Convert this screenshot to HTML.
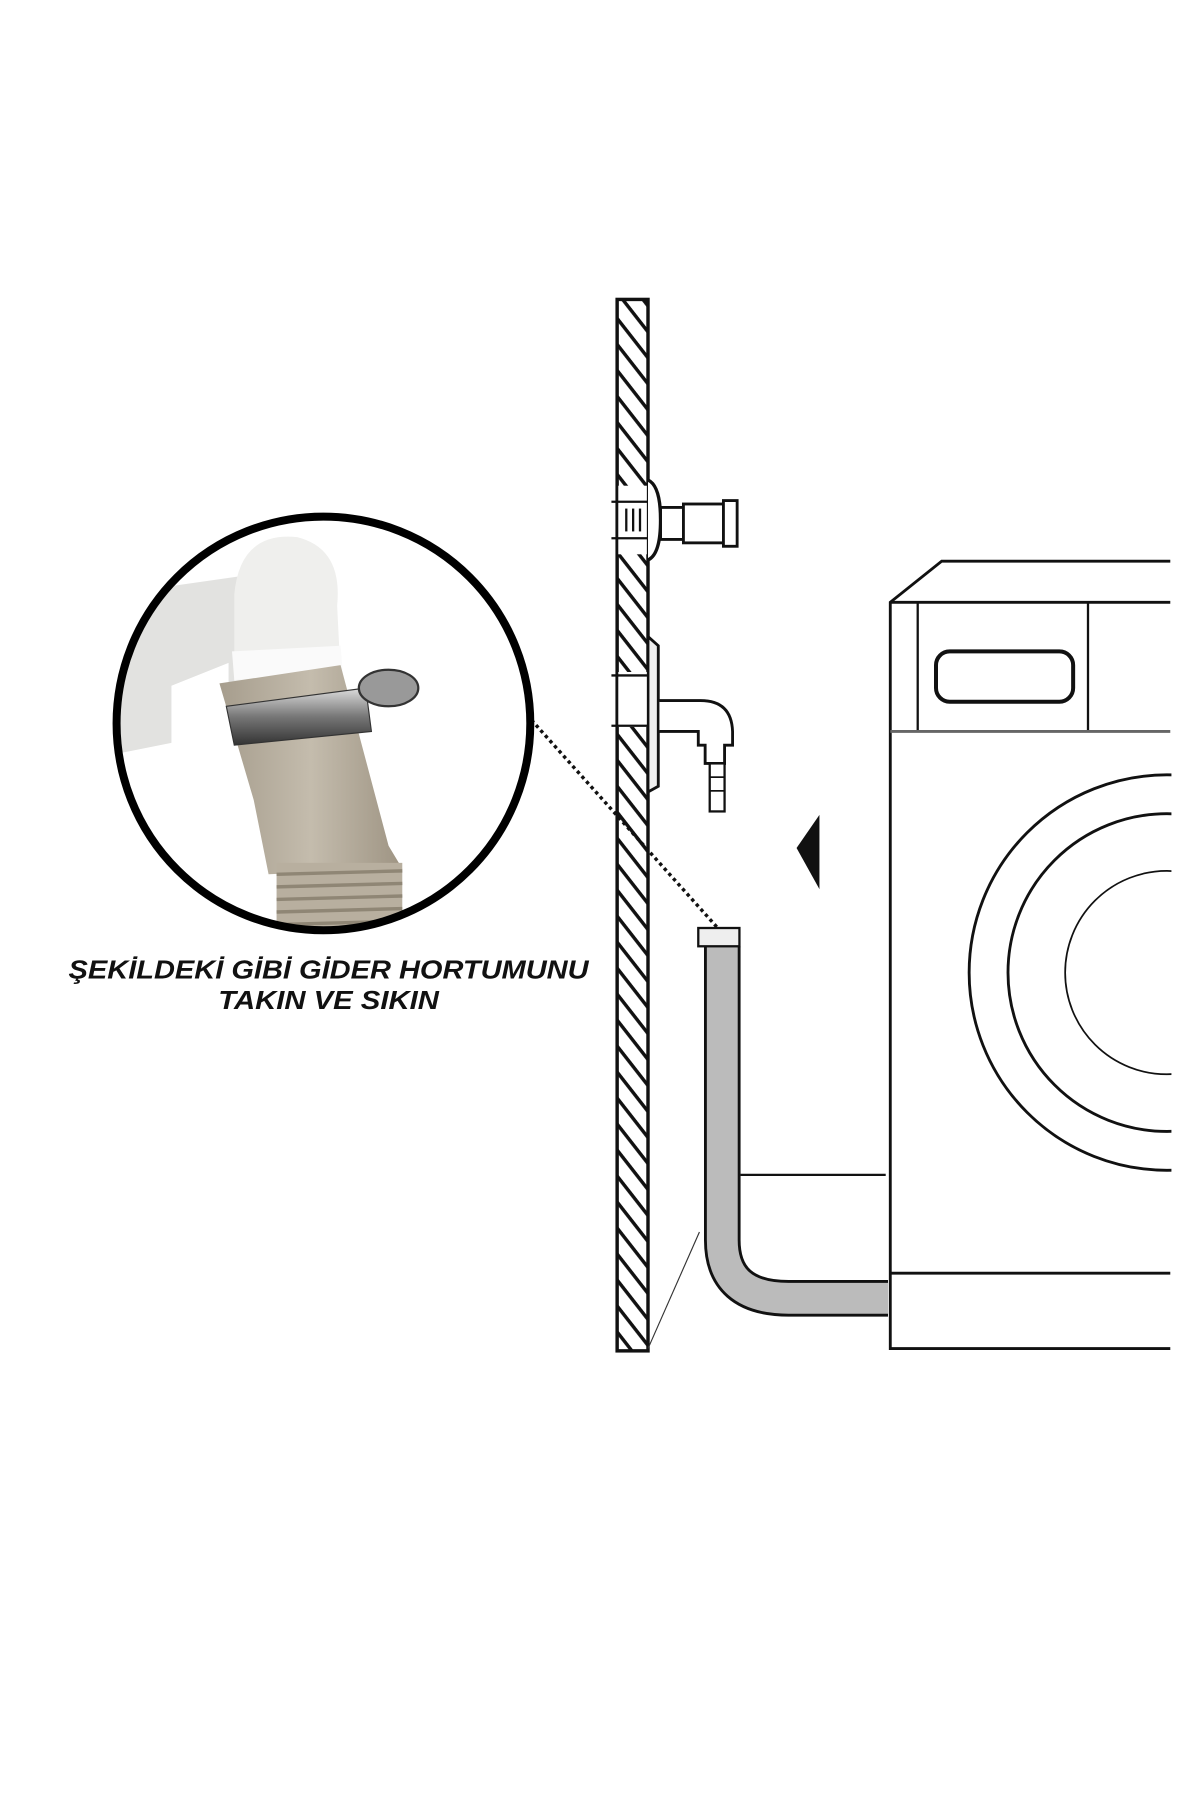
<!DOCTYPE html>
<html><head><meta charset="utf-8"><style>
html,body{margin:0;padding:0;background:#fff;width:1200px;height:1800px;overflow:hidden}
svg{display:block}
</style></head><body>
<svg width="1200" height="1800" viewBox="0 0 1050 1575" xmlns="http://www.w3.org/2000/svg">
<defs>
<pattern id="h" patternUnits="userSpaceOnUse" width="14" height="14" patternTransform="rotate(-38)">
<rect width="14" height="14" fill="#fff"/><line x1="2" y1="0" x2="2" y2="14" stroke="#111" stroke-width="3"/>
</pattern>
<clipPath id="c"><circle cx="283" cy="633" r="180"/></clipPath>
<linearGradient id="beige" x1="0" x2="1"><stop offset="0" stop-color="#a69d8d"/><stop offset=".5" stop-color="#c4bcad"/><stop offset="1" stop-color="#9e9483"/></linearGradient>
<linearGradient id="metal" x1="0" y1="0" x2="0" y2="1"><stop offset="0" stop-color="#ddd"/><stop offset=".5" stop-color="#777"/><stop offset="1" stop-color="#333"/></linearGradient>
</defs>
<rect x="540" y="262" width="27" height="920" fill="url(#h)" stroke="#111" stroke-width="3"/>
<line x1="612" y1="1078" x2="567" y2="1180" stroke="#333" stroke-width="1"/>
<rect x="541" y="425" width="25" height="60" fill="#fff"/>
<path d="M567 420 Q578 425 578 455 Q578 485 567 490" fill="#fff" stroke="#111" stroke-width="3"/>
<line x1="535" y1="439" x2="567" y2="439" stroke="#111" stroke-width="2"/>
<line x1="535" y1="471" x2="567" y2="471" stroke="#111" stroke-width="2"/>
<line x1="548" y1="445" x2="548" y2="465" stroke="#111" stroke-width="2"/><line x1="554" y1="445" x2="554" y2="465" stroke="#111" stroke-width="2"/><line x1="560" y1="445" x2="560" y2="465" stroke="#111" stroke-width="2"/>
<rect x="578" y="444" width="20" height="28" fill="#fff" stroke="#111" stroke-width="2.5"/>
<rect x="598" y="441" width="35" height="34" fill="#fff" stroke="#111" stroke-width="2.5"/>
<rect x="633" y="438" width="12" height="40" fill="#fff" stroke="#111" stroke-width="2.5"/>
<path d="M567 557 L576 565 L576 688 L567 693 Z" fill="#eee" stroke="#111" stroke-width="2.5"/>
<rect x="541" y="588" width="25" height="48" fill="#fff"/>
<line x1="535" y1="591" x2="567" y2="591" stroke="#111" stroke-width="2"/>
<line x1="535" y1="635" x2="567" y2="635" stroke="#111" stroke-width="2"/>
<path d="M577 613 L613 613 Q640 613 641 640 L641 652 L634 652 L634 668 L617 668 L617 652 L611 652 L611 640 L577 640" fill="#fff" stroke="#111" stroke-width="2.5"/>
<rect x="621" y="668" width="13" height="42" fill="#fff" stroke="#111" stroke-width="2"/>
<line x1="621" y1="680" x2="634" y2="680" stroke="#111" stroke-width="1.5"/><line x1="621" y1="692" x2="634" y2="692" stroke="#111" stroke-width="1.5"/>
<polygon points="697,742 717,713 717,778" fill="#111"/>
<line x1="465" y1="630" x2="628" y2="812" stroke="#111" stroke-width="3" stroke-dasharray="3 3"/>
<path d="M648 1028 L775 1028" stroke="#111" stroke-width="2"/>
<path d="M632 828 L632 1085 Q632 1136 690 1136 L777 1136" fill="none" stroke="#111" stroke-width="32"/>
<path d="M632 828 L632 1085 Q632 1136 690 1136 L777 1136" fill="none" stroke="#bbb" stroke-width="27"/>
<rect x="611" y="812" width="36" height="16" fill="#eee" stroke="#111" stroke-width="2"/>
<g fill="none" stroke="#111" stroke-width="2.5">
<path d="M1024 491 L824 491 L779 527 L779 1180 L1024 1180"/>
<line x1="779" y1="527" x2="1024" y2="527"/>
<line x1="803" y1="527" x2="803" y2="640" stroke-width="2"/>
<line x1="952" y1="527" x2="952" y2="640" stroke-width="2"/>
<line x1="779" y1="640" x2="1024" y2="640" stroke="#666"/>
<rect x="819" y="570" width="120" height="44" rx="12" stroke-width="3.5"/>
<line x1="779" y1="1114" x2="1024" y2="1114"/>
<circle cx="1021" cy="851" r="173"/>
<circle cx="1021" cy="851" r="139"/>
<circle cx="1021" cy="851" r="89" stroke-width="1.5"/>
</g>
<rect x="1025" y="480" width="30" height="720" fill="#fff"/>
<g clip-path="url(#c)">
<rect x="100" y="450" width="370" height="370" fill="#fff"/>
<path d="M100 520 L240 500 Q290 480 290 540 L290 600 L200 600 L200 580 L150 600 L150 650 L100 660 Z" fill="#e2e2e0"/>
<path d="M205 600 L205 520 Q210 465 260 470 Q300 480 295 530 L298 590 Z" fill="#efefed"/>
<path d="M203 570 L298 565 L300 590 L205 595 Z" fill="#fafafa"/>
<path d="M192 598 L298 582 L340 740 L352 760 L235 765 L222 700 Z" fill="url(#beige)"/>
<rect x="242" y="755" width="110" height="60" fill="#b8af9f"/>
<g stroke="#8f8675" stroke-width="3"><line x1="242" y1="765" x2="352" y2="762"/><line x1="242" y1="776" x2="352" y2="773"/><line x1="242" y1="787" x2="352" y2="784"/><line x1="242" y1="798" x2="352" y2="795"/><line x1="242" y1="809" x2="352" y2="806"/></g>
<path d="M198 618 L320 602 L325 640 L205 652 Z" fill="url(#metal)" stroke="#333" stroke-width="1"/>
<ellipse cx="340" cy="602" rx="26" ry="16" fill="#999" stroke="#333" stroke-width="2"/>
</g>
<circle cx="283" cy="633" r="181" fill="none" stroke="#000" stroke-width="7"/>
<text x="60" y="856" textLength="455" lengthAdjust="spacingAndGlyphs" font-family="Liberation Sans, sans-serif" font-weight="bold" font-style="italic" font-size="23" fill="#111">ŞEKİLDEKİ  GİBİ GİDER HORTUMUNU</text>
<text x="191" y="883" textLength="193" lengthAdjust="spacingAndGlyphs" font-family="Liberation Sans, sans-serif" font-weight="bold" font-style="italic" font-size="23" fill="#111">TAKIN VE SIKIN</text>
</svg>
</body></html>
